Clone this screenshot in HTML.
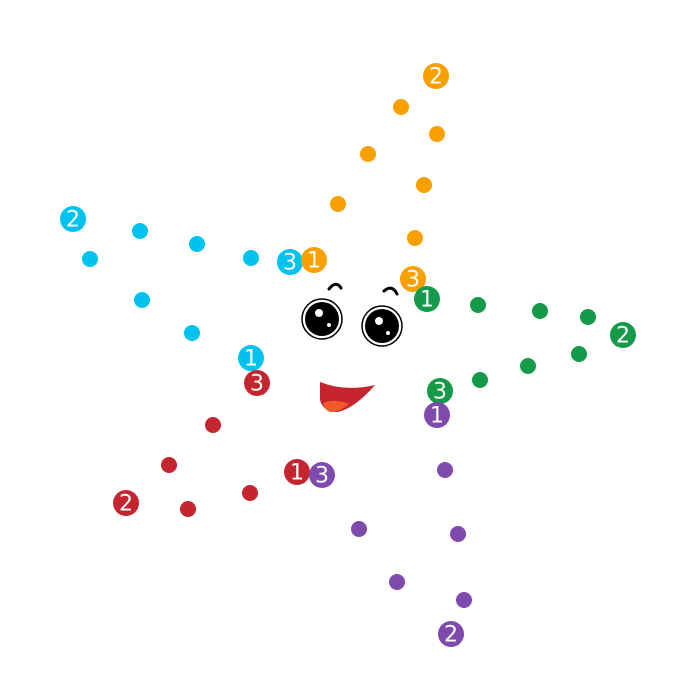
<!DOCTYPE html>
<html><head><meta charset="utf-8"><style>html,body{margin:0;padding:0;background:#fff}svg{display:block}text{font-family:"DejaVu Sans","Liberation Sans",sans-serif;font-size:22px;fill:#fff;text-anchor:middle;dominant-baseline:central}</style></head><body>
<svg width="700" height="700" viewBox="0 0 700 700">
<g fill="#f7a000"><circle cx="401" cy="107" r="8"/><circle cx="437" cy="134" r="8"/><circle cx="368" cy="154" r="8"/><circle cx="424" cy="185" r="8"/><circle cx="338" cy="204" r="8"/><circle cx="415" cy="238" r="8"/></g>
<g fill="#00c2ef"><circle cx="140" cy="231" r="8"/><circle cx="197" cy="244" r="8"/><circle cx="251" cy="258" r="8"/><circle cx="90" cy="259" r="8"/><circle cx="142" cy="300" r="8"/><circle cx="192" cy="333" r="8"/></g>
<g fill="#149a48"><circle cx="478" cy="305" r="8"/><circle cx="540" cy="311" r="8"/><circle cx="588" cy="317" r="8"/><circle cx="579" cy="354" r="8"/><circle cx="528" cy="366" r="8"/><circle cx="480" cy="380" r="8"/></g>
<g fill="#c5252f"><circle cx="213" cy="425" r="8"/><circle cx="169" cy="465" r="8"/><circle cx="250" cy="493" r="8"/><circle cx="188" cy="509" r="8"/></g>
<g fill="#7e4aad"><circle cx="445" cy="470" r="8"/><circle cx="359" cy="529" r="8"/><circle cx="458" cy="534" r="8"/><circle cx="397" cy="582" r="8"/><circle cx="464" cy="600" r="8"/></g>
<g>
<circle cx="436" cy="76" r="13" fill="#f7a000"/><text x="436" y="77">2</text>
<circle cx="73" cy="219" r="13" fill="#00c2ef"/><text x="73" y="220">2</text>
<circle cx="290" cy="262" r="13" fill="#00c2ef"/><text x="290" y="263">3</text>
<circle cx="314" cy="260" r="13" fill="#f7a000"/><text x="314" y="261">1</text>
<circle cx="413" cy="279" r="13" fill="#f7a000"/><text x="413" y="280">3</text>
<circle cx="427" cy="299" r="13" fill="#149a48"/><text x="427" y="300">1</text>
<circle cx="623" cy="335" r="13" fill="#149a48"/><text x="623" y="336">2</text>
<circle cx="251" cy="358" r="13" fill="#00c2ef"/><text x="251" y="359">1</text>
<circle cx="257" cy="383" r="13" fill="#c5252f"/><text x="257" y="384">3</text>
<circle cx="440" cy="391" r="13" fill="#149a48"/><text x="440" y="392">3</text>
<circle cx="437" cy="415" r="13" fill="#7e4aad"/><text x="437" y="416">1</text>
<circle cx="297" cy="472" r="13" fill="#c5252f"/><text x="297" y="473">1</text>
<circle cx="322" cy="475" r="13" fill="#7e4aad"/><text x="322" y="476">3</text>
<circle cx="126" cy="503" r="13" fill="#c5252f"/><text x="126" y="504">2</text>
<circle cx="451" cy="634" r="13" fill="#7e4aad"/><text x="451" y="635">2</text>
</g>
<path d="M329 289 Q336 280 341 288" fill="none" stroke="#000" stroke-width="3" stroke-linecap="round"/>
<path d="M384 291 Q392 284 397 294" fill="none" stroke="#000" stroke-width="3" stroke-linecap="round"/>
<circle cx="322" cy="319" r="20" fill="#fff" stroke="#000" stroke-width="1.5"/>
<circle cx="322" cy="319" r="17" fill="#000"/>
<circle cx="319" cy="313" r="4" fill="#fff"/><circle cx="329" cy="325" r="2" fill="#fff"/>
<circle cx="382" cy="326" r="20" fill="#fff" stroke="#000" stroke-width="1.5"/>
<circle cx="382" cy="326" r="17" fill="#000"/>
<circle cx="379" cy="321" r="4" fill="#fff"/><circle cx="388" cy="333" r="2" fill="#fff"/>
<path d="M320 382 Q345 392 375 385 Q355 408 338 412 Q323 412 320 400 Z" fill="#c5252f"/>
<path d="M323 403 Q335 398 349 404 Q338 413 330 412 Q324 410 323 403 Z" fill="#f05a28"/>
</svg>
</body></html>
